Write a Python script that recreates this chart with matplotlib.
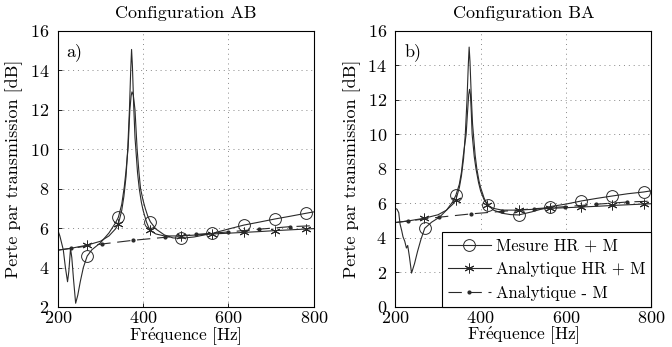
import numpy as np
import matplotlib
matplotlib.use("Agg")
import matplotlib.pyplot as plt

plt.rcParams['font.family'] = ['cmr10', 'DejaVu Serif']
plt.rcParams['axes.formatter.use_mathtext'] = True
plt.rcParams['mathtext.fontset'] = 'cm'

# ---------------- data ----------------
# Analytique HR + M (same model for both configurations)
f_ana = [200, 230, 268, 300, 320, 335, 342, 350, 355, 360, 364, 368, 371, 373,
         375, 378, 381, 383, 387, 391, 396, 400, 408, 416, 430, 450, 489, 525,
         562, 600, 636, 672, 709, 745, 782, 800]
ta_ana = [4.88, 4.97, 5.13, 5.33, 5.6, 5.95, 6.2, 6.9, 7.6, 8.6, 10.0, 12.0, 14.0, 15.05,
          14.2, 12.2, 10.6, 10.0, 8.8, 8.0, 7.3, 6.9, 6.3, 5.88, 5.7, 5.6, 5.6, 5.65,
          5.7, 5.74, 5.78, 5.82, 5.87, 5.91, 5.95, 5.97]

# Analytique - M
f_sans = [200, 230, 303, 377, 451, 525, 598, 671, 744, 800]
ta_sans = [4.88, 4.97, 5.19, 5.38, 5.53, 5.68, 5.8, 5.94, 6.07, 6.12]

# Mesure HR + M, configuration AB
f_mes_ab = [200, 205, 213, 218, 223, 226, 230, 233, 237, 242, 247, 253, 260, 269,
            280, 300, 320, 335, 342, 350, 356, 360, 365, 369, 372, 374, 377, 381,
            386, 390, 394, 400, 405, 411, 417, 430, 450, 470, 489, 520, 562, 600,
            636, 672, 709, 745, 782, 800]
ta_mes_ab = [5.9, 5.6, 4.9, 4.0, 3.28, 3.8, 4.97, 4.5, 3.4, 2.19, 2.6, 3.3, 4.0, 4.58,
             4.9, 5.25, 5.75, 6.25, 6.54, 7.2, 8.1, 8.9, 10.1, 12.0, 12.7, 12.9, 12.75, 12.0,
             10.0, 8.9, 8.0, 7.4, 7.0, 6.6, 6.32, 5.95, 5.65, 5.5, 5.48, 5.55, 5.73, 5.95,
             6.15, 6.3, 6.46, 6.6, 6.75, 6.82]

# Mesure HR + M, configuration BA
f_mes_ba = [200, 204, 208, 211, 215, 218, 222, 226, 229, 233, 238, 245, 252, 260,
            269, 285, 304, 320, 335, 342, 350, 355, 359, 366, 369, 372, 374, 376,
            378, 380, 385, 389, 395, 400, 408, 417, 430, 450, 470, 489, 520, 562,
            600, 636, 672, 709, 745, 782, 800]
ta_mes_ba = [5.7, 5.65, 5.45, 4.8, 4.4, 4.05, 3.8, 3.4, 3.55, 2.9, 1.95, 2.5, 3.2, 3.9,
             4.55, 4.9, 5.2, 5.6, 6.1, 6.47, 7.1, 7.8, 8.7, 10.0, 11.2, 12.3, 12.6, 12.3,
             11.3, 10.0, 8.7, 8.0, 7.2, 6.7, 6.2, 5.9, 5.6, 5.42, 5.34, 5.32, 5.5, 5.8,
             5.95, 6.13, 6.28, 6.42, 6.55, 6.65, 6.72]

f_marques = [269, 342, 417, 489, 562, 636, 709, 782]
f_marques_ana = [268, 342, 416, 489, 562, 636, 709, 782]
f_marques_sans = [230, 303, 377, 451, 525, 598, 671, 744]

titres = ["Configuration AB", "Configuration BA"]
lettres = ["a)", "b)"]
ylims = [(2, 16), (0, 16)]
xticks = [200, 400, 600, 800]
legende = ["Mesure HR + M", "Analytique HR + M", "Analytique - M"]
xlabel = r"$\mathrm{Fr\acute{e}quence\ [Hz]}$"   # Fréquence [Hz]
ylabel = "Perte par transmission [dB]"


def idx(f, marks):
    return [int(np.argmin(np.abs(np.array(f) - m))) for m in marks]


fig = plt.figure(figsize=(6.72, 3.47), dpi=100)
ax1 = fig.add_axes([0.0859, 0.1153, 0.3811, 0.7962])
ax2 = fig.add_axes([0.5883, 0.1161, 0.3809, 0.7954])

col = '#2a2a2a'
for k, (ax, fm, tm) in enumerate([(ax1, f_mes_ab, ta_mes_ab), (ax2, f_mes_ba, ta_mes_ba)]):
    ax.plot(fm, tm, '-', color=col, lw=0.8, marker='o', ms=8.5, mfc='none', mec=col,
            mew=0.7, markevery=idx(fm, f_marques), label=legende[0])
    ax.plot(f_ana, ta_ana, '-', color=col, lw=0.8, marker=(6, 2, 0), ms=7, mec=col,
            mew=0.7, markevery=idx(f_ana, f_marques_ana), label=legende[1])
    ax.plot(f_sans, ta_sans, '--', color=col, lw=0.8, dashes=(12, 6), marker='.', ms=4,
            markevery=idx(f_sans, f_marques_sans), label=legende[2])
    ax.set_xlim(200, 800)
    ax.set_ylim(*ylims[k])
    ax.set_xticks(xticks)
    ax.set_yticks(np.arange(ylims[k][0], 17, 2))
    ax.grid(True, linestyle=(0, (1, 4)), color='#888888', lw=0.7)
    ax.tick_params(direction='in', length=3, labelsize=13, width=0.6, pad=6)
    ax.tick_params(axis='x', pad=2.5)
    for s in ax.spines.values():
        s.set_linewidth(0.8)
    ax.set_title(titres[k], fontsize=13, pad=9)
    ax.set_xlabel(xlabel, fontsize=12.5)
    ax.xaxis.set_label_coords(0.5, -0.066)
    ax.set_ylabel(ylabel, fontsize=13, labelpad=5)
    ax.text(0.035, 0.955, lettres[k], transform=ax.transAxes, fontsize=13, va='top', ha='left')

leg = ax2.legend(loc='lower right', borderaxespad=0, fancybox=False, edgecolor='k',
                 framealpha=1, fontsize=12, handlelength=2.6, handletextpad=0.3,
                 borderpad=0.35, labelspacing=0.5)
leg.get_frame().set_linewidth(0.8)

fig.savefig("out.png", dpi=100)
